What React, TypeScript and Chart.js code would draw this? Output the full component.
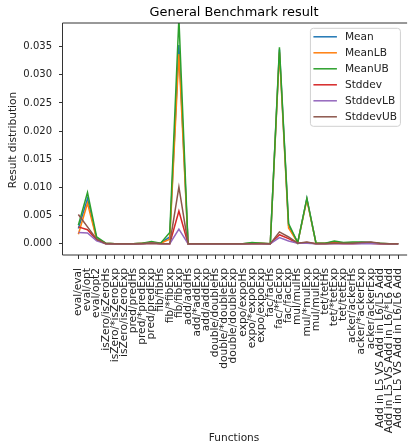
import React, { useEffect, useRef } from "react";
import { Chart, registerables } from "chart.js";

Chart.register(...registerables);

const categories = [
  "eval/eval", "eval/opt", "eval/opt2",
  "isZero/isZeroHs", "isZero/*isZeroExp", "isZero/isZeroExp",
  "pred/predHs", "pred/*predExp", "pred/predExp",
  "fib/fibHs", "fib/*fibExp", "fib/fibExp",
  "add/addHs", "add/*addExp", "add/addExp",
  "double/doubleHs", "double/*doubleExp", "double/doubleExp",
  "expo/expoHs", "expo/*expoExp", "expo/expoExp",
  "fac/facHs", "fac/*facExp", "fac/facExp",
  "mul/mulHs", "mul/*mulExp", "mul/mulExp",
  "tet/tetHs", "tet/*tetExp", "tet/tetExp",
  "acker/ackerHs", "acker/*ackerExp", "acker/ackerExp",
  "Add in L5 VS Add in L6/L5 Add", "Add in L5 VS Add in L6/*L6 Add", "Add in L5 VS Add in L6/L6 Add",
];

const mean = [
  0.0027, 0.0080, 0.0009, 0.0001, 0, 0, 0, 0.0001, 0.0002, 0.0001, 0.0012, 0.0353,
  0, 0, 0, 0, 0, 0, 0, 0.0001, 0.0001, 0, 0.0345, 0.0032,
  0.0002, 0.0080, 0.0001, 0.0001, 0.0003, 0.0001, 0.0001, 0.0002, 0.0002, 0, 0, 0,
];
const meanLB = [
  0.0017, 0.0072, 0.0008, 0.0001, 0, 0, 0, 0.0001, 0.0002, 0.0001, 0.0008, 0.0337,
  0, 0, 0, 0, 0, 0, 0, 0.0001, 0.0001, 0, 0.0340, 0.0028,
  0.0002, 0.0078, 0.0001, 0.0001, 0.0002, 0.0001, 0.0001, 0.0001, 0.0001, 0, 0, 0,
];
const meanUB = [
  0.0033, 0.0091, 0.0012, 0.0001, 0, 0, 0, 0.0001, 0.0004, 0.0001, 0.0020, 0.0400,
  0, 0, 0, 0, 0, 0, 0, 0.0002, 0.0001, 0, 0.0349, 0.0036,
  0.0002, 0.0081, 0.0001, 0.0001, 0.0005, 0.0002, 0.0003, 0.0003, 0.0002, 0.0001, 0, 0,
];
const stddev = [
  0.0030, 0.0025, 0.0007, 0, 0, 0, 0, 0, 0.0001, 0, 0, 0.0058,
  0, 0, 0, 0, 0, 0, 0, 0, 0, 0, 0.0016, 0.0009,
  0.0001, 0.0002, 0, 0, 0.0001, 0, 0, 0.0001, 0.0001, 0, 0, 0,
];
const stddevLB = [
  0.0020, 0.0019, 0.0005, 0, 0, 0, 0, 0, 0.0001, 0, 0, 0.0026,
  0, 0, 0, 0, 0, 0, 0, 0, 0, 0, 0.0011, 0.0005,
  0.0001, 0.0001, 0, 0, 0, 0, 0, 0, 0, 0, 0, 0,
];
const stddevUB = [
  0.0052, 0.0030, 0.0008, 0, 0, 0, 0, 0, 0.0001, 0, 0, 0.0101,
  0, 0, 0, 0, 0, 0, 0, 0, 0, 0, 0.0021, 0.0012,
  0.0001, 0.0003, 0, 0, 0.0001, 0.0001, 0.0001, 0.0002, 0.0003, 0.0001, 0, 0,
];

const seriesNames = ["Mean", "MeanLB", "MeanUB", "Stddev", "StddevLB", "StddevUB"];
const seriesValues = [mean, meanLB, meanUB, stddev, stddevLB, stddevUB];
const seriesColors = ["#1f77b4", "#ff7f0e", "#2ca02c", "#d62728", "#9467bd", "#8c564b"];

const yTicks = [0, 0.005, 0.01, 0.015, 0.02, 0.025, 0.03, 0.035];
const yMin = -0.002;
const yMax = 0.0392;
const xMin = -1.68;
const xMax = 35.75;

const titleText = "General Benchmark result";
const xTitle = "Functions";
const yTitle = "Result distribution";

const FONT = "'DejaVu Sans', sans-serif";
const TEXT = "#222";

const decorPlugin = {
  id: "decor",
  afterDraw(chart: any) {
    const { ctx, chartArea: a } = chart;
    ctx.save();
    ctx.strokeStyle = "#333";
    ctx.lineWidth = 1;
    ctx.beginPath();
    ctx.moveTo(a.left - 0.5, a.top);
    ctx.lineTo(a.right + 2, a.top);
    ctx.moveTo(a.left - 0.5, a.top);
    ctx.lineTo(a.left - 0.5, a.bottom);
    ctx.lineTo(a.right + 2, a.bottom);
    ctx.stroke();

    const cx = (a.left + a.right) / 2;
    ctx.fillStyle = "#000";
    ctx.textAlign = "center";
    ctx.textBaseline = "middle";
    ctx.font = `12.9px ${FONT}`;
    ctx.fillText(titleText, cx, 12.5);
    ctx.font = `10.6px ${FONT}`;
    ctx.fillStyle = TEXT;
    ctx.fillText(xTitle, cx, a.bottom + 183);
    ctx.save();
    ctx.translate(13.5, (a.top + a.bottom) / 2 + 1);
    ctx.rotate(-Math.PI / 2);
    ctx.fillText(yTitle, 0, 0);
    ctx.restore();

    // legend
    const bw = 90;
    const bh = 98;
    const bx = a.right - 4.7 - bw;
    const by = a.top + 5.3;
    const r = 3;
    ctx.beginPath();
    ctx.moveTo(bx + r, by);
    ctx.lineTo(bx + bw - r, by);
    ctx.quadraticCurveTo(bx + bw, by, bx + bw, by + r);
    ctx.lineTo(bx + bw, by + bh - r);
    ctx.quadraticCurveTo(bx + bw, by + bh, bx + bw - r, by + bh);
    ctx.lineTo(bx + r, by + bh);
    ctx.quadraticCurveTo(bx, by + bh, bx, by + bh - r);
    ctx.lineTo(bx, by + r);
    ctx.quadraticCurveTo(bx, by, bx + r, by);
    ctx.closePath();
    ctx.fillStyle = "rgba(255,255,255,0.8)";
    ctx.fill();
    ctx.strokeStyle = "#d0d0d0";
    ctx.lineWidth = 1;
    ctx.stroke();

    ctx.textAlign = "left";
    ctx.textBaseline = "middle";
    ctx.font = `10.6px ${FONT}`;
    chart.data.datasets.forEach((ds: any, i: number) => {
      const yy = by + 8.5 + i * 16;
      ctx.strokeStyle = ds.borderColor;
      ctx.lineWidth = 1.5;
      ctx.beginPath();
      ctx.moveTo(bx + 3, yy);
      ctx.lineTo(bx + 26.5, yy);
      ctx.stroke();
      ctx.fillStyle = TEXT;
      ctx.fillText(ds.label, bx + 34.5, yy + 0.5);
    });
    ctx.restore();
  },
};

export default function App() {
  const ref = useRef<HTMLCanvasElement | null>(null);
  useEffect(() => {
    if (!ref.current) return;
    const chart = new Chart(ref.current, {
      type: "line",
      data: {
        datasets: seriesNames.map((name, i) => ({
          label: name,
          data: seriesValues[i].map((v, j) => ({ x: j, y: v })),
          borderColor: seriesColors[i],
          backgroundColor: seriesColors[i],
          borderWidth: 1.5,
          pointRadius: 0,
          pointHoverRadius: 0,
          tension: 0,
          fill: false,
          order: seriesNames.length - i,
        })),
      },
      options: {
        responsive: false,
        animation: false,
        events: [],
        layout: { padding: { top: 23, left: 0, right: 1, bottom: 0 } },
        plugins: {
          legend: { display: false },
          title: { display: false },
          tooltip: { enabled: false },
        },
        scales: {
          x: {
            type: "linear",
            min: xMin,
            max: xMax,
            afterBuildTicks: (scale: any) => {
              scale.ticks = categories.map((_, i) => ({ value: i }));
            },
            afterFit: (scale: any) => {
              scale.height = 190;
            },
            ticks: {
              autoSkip: false,
              maxRotation: 90,
              minRotation: 90,
              padding: 9,
              color: TEXT,
              font: { family: FONT, size: 10.6 },
              callback: (_v: any, idx: number) => categories[idx],
            },
            grid: {
              display: true,
              drawOnChartArea: false,
              drawTicks: true,
              tickLength: 4,
              tickColor: "#333",
              tickWidth: 1,
            },
            border: { display: false },
          },
          y: {
            type: "linear",
            min: yMin,
            max: yMax,
            afterBuildTicks: (scale: any) => {
              scale.ticks = yTicks.map((v) => ({ value: v }));
            },
            afterFit: (scale: any) => {
              scale.width = 63;
            },
            ticks: {
              padding: 7,
              color: TEXT,
              font: { family: FONT, size: 10 },
              callback: (v: any) => Number(v).toFixed(3),
            },
            grid: {
              display: true,
              drawOnChartArea: false,
              drawTicks: true,
              tickLength: 4,
              tickColor: "#333",
              tickWidth: 1,
            },
            border: { display: false },
          },
        },
      },
      plugins: [decorPlugin],
    });
    return () => chart.destroy();
  }, []);
  return (
    <div style={{ position: "absolute", left: 0, top: 0, width: 420, height: 445, overflow: "hidden" }}>
      <canvas ref={ref} width={420} height={445} style={{ display: "block", width: 420, height: 445 }} />
    </div>
  );
}
